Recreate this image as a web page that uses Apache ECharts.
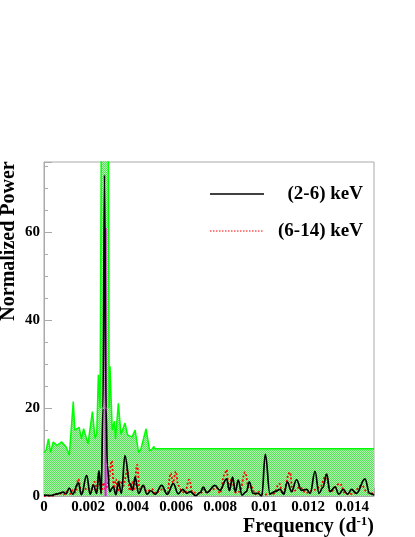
<!DOCTYPE html>
<html>
<head>
<meta charset="utf-8">
<script src="https://cdn.jsdelivr.net/npm/echarts@6/dist/echarts.min.js"></script>
<style>
  html, body { margin: 0; padding: 0; background: #fff; }
  #chart { width: 415px; height: 537px; }
</style>
</head>
<body>
<div id="chart"></div>
<script>
// frequency (1/d) and normalized power
var blackFreq = [0, 0.0003, 0.0006, 0.00088, 0.001, 0.00115, 0.0013, 0.00156, 0.0017, 0.00194, 0.0021, 0.00224, 0.0024, 0.0025, 0.0026, 0.00268, 0.00275, 0.00282, 0.00288, 0.00298, 0.00315, 0.00327, 0.00338, 0.00352, 0.00368, 0.0039, 0.00403, 0.00414, 0.0043, 0.00451, 0.00468, 0.00485, 0.00505, 0.00535, 0.0056, 0.00588, 0.0061, 0.0063, 0.0065, 0.00664, 0.0069, 0.0071, 0.00724, 0.0074, 0.00777, 0.008, 0.0083, 0.00843, 0.00857, 0.0087, 0.00883, 0.009, 0.0092, 0.00933, 0.0095, 0.00974, 0.0099, 0.01006, 0.01027, 0.0105, 0.01073, 0.0109, 0.01106, 0.01125, 0.01148, 0.0117, 0.01194, 0.0121, 0.01232, 0.0125, 0.01267, 0.01285, 0.013, 0.01323, 0.0134, 0.0136, 0.0138, 0.01398, 0.0142, 0.01459, 0.0148, 0.015];
var blackPower = [0.2, 0.1, 0.5, 0.9, 0.5, 1.8, 0.4, 3.0, 0.3, 4.7, 0.4, 2.5, 0.6, 5.8, 0.5, 20, 73, 20, 7, 1, 2.1, 0.3, 3.2, 0.6, 9.2, 2.8, 1.3, 4.3, 0.6, 2.4, 0.4, 1.2, 0.4, 2.4, 0.4, 2.8, 0.5, 1.5, 0.6, 1.0, 0.1, 0.8, 2.0, 0.8, 2.4, 1.3, 3.9, 1.2, 4.3, 1.0, 3.6, 0.2, 1.0, 3.2, 0.6, 0.6, 0.0, 9.5, 0.5, 1.0, 1.5, 0.4, 3.2, 1.0, 3.7, 1.3, 1.5, 0.6, 5.6, 0.6, 1.9, 5.0, 1.0, 2.1, 0.4, 1.5, 0.4, 1.5, 0.6, 3.9, 0.6, 0.2];

var redFreq = [0, 0.0004, 0.0007, 0.0009, 0.001, 0.0012, 0.00133, 0.00145, 0.00156, 0.0017, 0.00185, 0.002, 0.0021, 0.0023, 0.0024, 0.00247, 0.0026, 0.0027, 0.0028, 0.00292, 0.00308, 0.00318, 0.00327, 0.00336, 0.00345, 0.0036, 0.00379, 0.0039, 0.00399, 0.0041, 0.00423, 0.00435, 0.00451, 0.00467, 0.0049, 0.0051, 0.00527, 0.0054, 0.0056, 0.00576, 0.00587, 0.00599, 0.0061, 0.00626, 0.0064, 0.0066, 0.00675, 0.00694, 0.0071, 0.00725, 0.0074, 0.00755, 0.00785, 0.008, 0.0082, 0.0083, 0.0084, 0.00853, 0.0087, 0.0089, 0.00914, 0.0093, 0.00944, 0.0096, 0.0098, 0.01, 0.01042, 0.0107, 0.01085, 0.01118, 0.0113, 0.01164, 0.0119, 0.01224, 0.01255, 0.01282, 0.013, 0.01345, 0.0137, 0.014, 0.01444, 0.0147, 0.015];
var redPower = [0, 0.1, 0.6, 0.3, 1.0, 0.5, 1.4, 0.8, 3.9, 0.6, 1.5, 1.9, 0.8, 3.2, 1.0, 5.2, 0.8, 3.0, 1.5, 3.0, 8.0, 1.8, 3.8, 1.2, 3.5, 2.3, 6.0, 1.2, 3.2, 1.5, 7.1, 1.5, 2.4, 1.0, 1.6, 0.6, 1.3, 1.6, 0.8, 5.2, 3.0, 5.6, 2.4, 1.2, 0.6, 3.7, 0.8, 0.7, 0.4, 1.5, 0.8, 1.3, 1.8, 0.6, 4.8, 6.0, 1.5, 3.9, 0.8, 1.0, 5.4, 2.0, 2.0, 0.4, 1.0, 0.3, 0.5, 2.8, 0.5, 5.4, 1.0, 2.0, 0.7, 1.3, 2.0, 4.8, 1.0, 2.8, 0.5, 0.5, 2.4, 0.8, 0.5];

// significance envelope (green band)
var bandFreq = [0, 0.0001, 0.0002, 0.0003, 0.00042, 0.0006, 0.0008, 0.001, 0.00115, 0.00133, 0.0014, 0.0016, 0.0017, 0.0018, 0.002, 0.0022, 0.00232, 0.0024, 0.00247, 0.00255, 0.00262, 0.00292, 0.00296, 0.003, 0.0031, 0.0032, 0.00325, 0.00338, 0.0035, 0.00368, 0.0038, 0.004, 0.00414, 0.0043, 0.0044, 0.00464, 0.0048, 0.0049, 0.005, 0.00501, 0.015];
var bandLevel = [9.8, 10.5, 13, 9.9, 12.3, 11.5, 12.3, 11.2, 9.3, 21.5, 15, 15.6, 13, 15.3, 11.9, 19.2, 13.1, 14.3, 27.6, 20, 100, 100, 20, 29.5, 15, 17, 13, 21.1, 14, 16.6, 13.9, 13.4, 15, 9.9, 10.6, 15.3, 10.3, 10.6, 11.3, 10.75, 10.75];

// marker at the detected period
var markerFreq = [0.0028, 0.0028];
var markerPower = [0, 61];

var xTicks = [0, 0.015, 0.002];   // min, max, step
var yTicks = [0, 76, 20];

var seriesNames = ['(2-6) keV', '(6-14) keV'];

function pairs(xs, ys) {
  return xs.map(function (x, i) { return [x, ys[i]]; });
}

// dotted green fill like the original hatch
var pat = document.createElement('canvas');
pat.width = 2; pat.height = 2;
var pctx = pat.getContext('2d');
pctx.fillStyle = '#b2f5b2'; pctx.fillRect(0, 0, 2, 2);
pctx.fillStyle = '#55e055'; pctx.fillRect(0, 0, 1, 1); pctx.fillRect(1, 1, 1, 1);

var font = '"Liberation Serif", "Times New Roman", serif';

var chart = echarts.init(document.getElementById('chart'));
chart.setOption({
  animation: false,
  backgroundColor: '#fff',
  grid: { left: 44, top: 162, right: 41, bottom: 41, show: true, borderColor: '#aaa', borderWidth: 1 },
  xAxis: {
    type: 'value', min: xTicks[0], max: xTicks[1], interval: xTicks[2],
    axisLine: { lineStyle: { color: '#aaa' } },
    axisTick: { inside: true, length: 8, lineStyle: { color: '#aaa' } },
    minorTick: { show: true, splitNumber: 4, length: 4, lineStyle: { color: '#aaa' } },
    splitLine: { show: false },
    axisLabel: { showMaxLabel: false, margin: 4, color: '#000', fontFamily: font, fontWeight: 'bold', fontSize: 15 }
  },
  yAxis: {
    type: 'value', min: yTicks[0], max: yTicks[1], interval: yTicks[2],
    axisLine: { show: true, lineStyle: { color: '#aaa' } },
    axisTick: { show: true, inside: true, length: 8, lineStyle: { color: '#aaa' } },
    minorTick: { show: true, splitNumber: 4, length: 4, lineStyle: { color: '#aaa' } },
    splitLine: { show: false },
    axisLabel: { showMaxLabel: false, margin: 4, color: '#000', fontFamily: font, fontWeight: 'bold', fontSize: 15 }
  },
  graphic: [
    { type: 'text', x: 9, y: 241, rotation: Math.PI / 2,
      style: { text: 'Normalized Power', font: 'bold 20px ' + font, fill: '#000', align: 'center', verticalAlign: 'middle' } },
    { type: 'text', x: 374, y: 527,
      style: { text: 'Frequency (d{s|-1})', font: 'bold 20px ' + font, fill: '#000', align: 'right', verticalAlign: 'middle',
        rich: { s: { fontFamily: font, fontWeight: 'bold', fontSize: 13, verticalAlign: 'top', padding: [0, 0, 10, 0] } } } },
    { type: 'line', shape: { x1: 210, y1: 194, x2: 264, y2: 194 }, style: { stroke: '#000', lineWidth: 1.5 } },
    { type: 'text', x: 363, y: 194, style: { text: seriesNames[0], font: 'bold 19px ' + font, fill: '#000', align: 'right', verticalAlign: 'middle' } },
    { type: 'line', shape: { x1: 210, y1: 231, x2: 264, y2: 231 }, style: { stroke: '#ff0000', lineWidth: 1.2, lineDash: [1.5, 1.5] } },
    { type: 'text', x: 363, y: 231, style: { text: seriesNames[1], font: 'bold 19px ' + font, fill: '#000', align: 'right', verticalAlign: 'middle' } }
  ],
  series: [
    {
      type: 'line', name: 'band', data: pairs(bandFreq, bandLevel), symbol: 'none', z: 1,
      lineStyle: { color: '#00ff00', width: 1.5 },
      areaStyle: { color: { image: pat, repeat: 'repeat' }, opacity: 1 }
    },
    {
      type: 'line', name: seriesNames[1], data: pairs(redFreq, redPower), symbol: 'none', z: 2,
      smooth: 0.4, smoothMonotone: 'x',
      lineStyle: { color: '#ff0000', width: 1.8, type: [2, 2] }
    },
    {
      type: 'line', name: 'marker', data: pairs(markerFreq, markerPower), symbol: 'none', z: 3,
      lineStyle: { color: '#ff00ff', width: 2 }
    },
    {
      type: 'line', name: seriesNames[0], data: pairs(blackFreq, blackPower), symbol: 'none', z: 4,
      smooth: 0.4, smoothMonotone: 'x',
      lineStyle: { color: '#000', width: 1.7 }
    }
  ]
});
</script>
</body>
</html>
